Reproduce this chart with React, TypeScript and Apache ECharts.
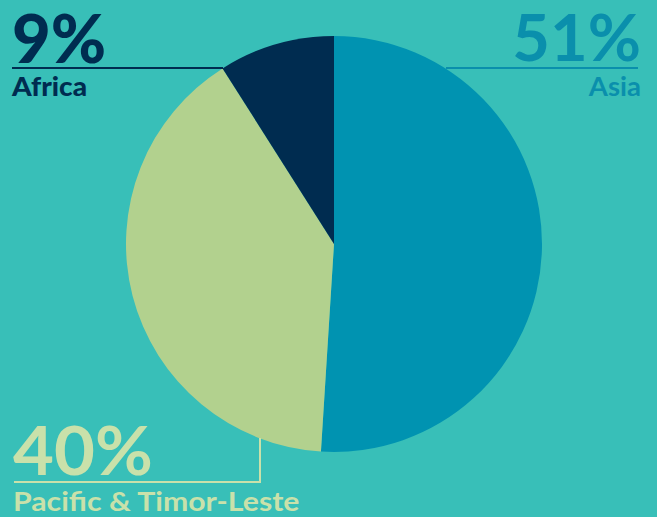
import React, { useEffect, useRef } from "react";
import * as echarts from "echarts";

const categories = ["Asia", "Pacific & Timor-Leste", "Africa"];
const values = [51, 40, 9];
const sliceColors = ["#0093B1", "#B2D18E", "#002C50"];
const labelColors = ["#0A8FAC", "#C9E1AA", "#002C50"];

const BG = "#38BFB8";
const FONT = "Lato, 'Noto Sans', sans-serif";

export default function App() {
  const ref = useRef<HTMLDivElement>(null);
  useEffect(() => {
    document.body.style.margin = "0";
    const chart = echarts.init(ref.current!, null, { renderer: "svg" });
    const pct = (i: number) => `${values[i]}%`;
    chart.setOption({
      animation: false,
      backgroundColor: BG,
      series: [
        {
          type: "pie",
          center: [334, 244],
          radius: 208,
          startAngle: 90,
          clockwise: true,
          silent: true,
          label: { show: false },
          labelLine: { show: false },
          itemStyle: { borderWidth: 0 },
          data: categories.map((c, i) => ({
            name: c,
            value: values[i],
            itemStyle: { color: sliceColors[i] },
          })),
        },
      ],
      graphic: [
        // Africa
        { type: "line", shape: { x1: 12, y1: 68, x2: 223, y2: 68 }, style: { stroke: labelColors[2], lineWidth: 2 }, z: 10 },
        { type: "text", x: 12, y: 37, style: { text: pct(2), font: `900 67px ${FONT}`, lineHeight: 56, fill: labelColors[2], verticalAlign: "middle", align: "left" } },
        { type: "text", x: 12, y: 86, scaleX: 1.08, style: { text: categories[2], font: `900 26px ${FONT}`, lineHeight: 24, fill: labelColors[2], verticalAlign: "middle", align: "left" } },
        // Asia
        { type: "line", shape: { x1: 446, y1: 68, x2: 638, y2: 68 }, style: { stroke: labelColors[0], lineWidth: 2 }, z: 10 },
        { type: "text", x: 641, y: 36, style: { text: pct(0), font: `bold 65px ${FONT}`, lineHeight: 56, fill: labelColors[0], verticalAlign: "middle", align: "right" } },
        { type: "text", x: 641, y: 86, scaleX: 1.06, style: { text: categories[0], font: `bold 26px ${FONT}`, lineHeight: 24, fill: labelColors[0], verticalAlign: "middle", align: "right" } },
        // Pacific
        { type: "polyline", shape: { points: [[14, 482], [260, 482], [260, 438]] }, style: { stroke: labelColors[1], lineWidth: 2, fill: null }, z: 10 },
        { type: "text", x: 13, y: 450, scaleX: 1.07, style: { text: pct(1), font: `bold 66px ${FONT}`, lineHeight: 56, fill: labelColors[1], verticalAlign: "middle", align: "left" } },
        { type: "text", x: 13, y: 501, scaleX: 1.12, style: { text: categories[1], font: `bold 27px ${FONT}`, lineHeight: 26, fill: labelColors[1], verticalAlign: "middle", align: "left" } },
      ],
    });
    return () => chart.dispose();
  }, []);
  return <div ref={ref} style={{ width: 657, height: 517, position: "absolute", left: 0, top: 0 }} />;
}
